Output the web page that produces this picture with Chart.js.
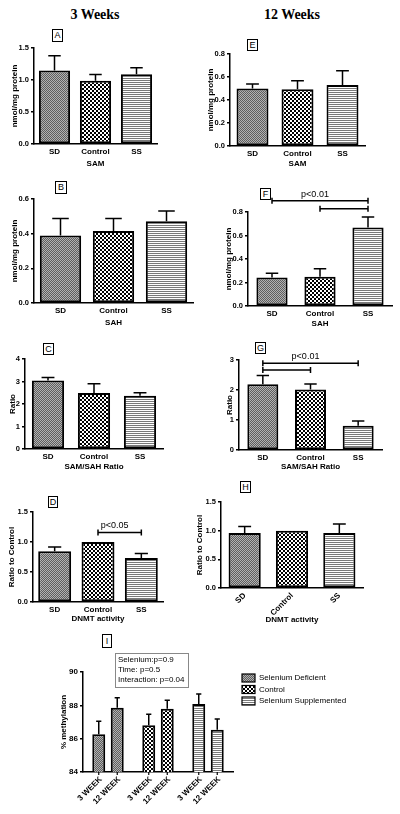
<!DOCTYPE html>
<html>
<head>
<meta charset="utf-8">
<script src="https://cdn.jsdelivr.net/npm/chart.js"></script>
<style>
    body { margin: 0; width: 400px; height: 814px; background: #fff; position: relative; overflow: hidden; font-family: "Liberation Sans", Arial, sans-serif; color: #000; }
    canvas { position: absolute; }
    .head { position: absolute; font: bold 14px "Liberation Serif", "Times New Roman", serif; transform: translate(-50%, -50%); white-space: nowrap; }
    .letter { position: absolute; border: 1.5px solid #000; font-size: 9px; line-height: 1; display: flex; align-items: center; justify-content: center; box-sizing: border-box; }
</style>
</head>
<body>

<div class="head" style="left:95px; top:15px;">3 Weeks</div>
<div class="head" style="left:292px; top:15px;">12 Weeks</div>

<div class="letter" style="left:52px; top:29px; width:11px; height:13px;">A</div>
<div class="letter" style="left:247px; top:39px; width:11px; height:12px;">E</div>
<div class="letter" style="left:55px; top:181px; width:12px; height:13px;">B</div>
<div class="letter" style="left:260px; top:188px; width:11px; height:12px;">F</div>
<div class="letter" style="left:43px; top:343px; width:11px; height:12px;">C</div>
<div class="letter" style="left:255px; top:342px; width:11px; height:12px;">G</div>
<div class="letter" style="left:48px; top:496px; width:10px; height:12px;">D</div>
<div class="letter" style="left:240px; top:481px; width:11px; height:12px;">H</div>
<div class="letter" style="left:102px; top:634px; width:10px; height:14px;">I</div>

<script>
// groups
const groupLabels = ['SD', 'Control', 'SS'];
const groupNames = ['Selenium Deficient', 'Control', 'Selenium Supplemented'];
const weekLabels = ['3 WEEK', '12 WEEK'];

// SAM (nmol/mg protein)
const sam3wk = [1.15, 0.99, 1.09];
const sam3wkErr = [0.23, 0.095, 0.10];
const sam12wk = [0.50, 0.493, 0.53];
const sam12wkErr = [0.04, 0.075, 0.125];

// SAH (nmol/mg protein)
const sah3wk = [0.39, 0.415, 0.472];
const sah3wkErr = [0.097, 0.073, 0.059];
const sah12wk = [0.242, 0.25, 0.668];
const sah12wkErr = [0.037, 0.066, 0.089];

// SAM/SAH ratio
const ratio3wk = [3.04, 2.49, 2.37];
const ratio3wkErr = [0.14, 0.41, 0.13];
const ratio12wk = [2.19, 2.02, 0.81];
const ratio12wkErr = [0.29, 0.18, 0.16];

// DNMT activity (ratio to control)
const dnmt3wk = [0.845, 1.0, 0.733];
const dnmt3wkErr = [0.072, 0, 0.074];
const dnmt12wk = [0.96, 1.0, 0.96];
const dnmt12wkErr = [0.114, 0, 0.156];

// % methylation, per group
const methyl3wk = [86.26, 86.8, 88.08];
const methyl3wkErr = [0.78, 0.66, 0.6];
const methyl12wk = [87.86, 87.79, 86.53];
const methyl12wkErr = [0.6, 0.52, 0.65];
const statsLines = ['Selenium:p=0.9', 'Time: p=0.5', 'Interaction: p=0.04'];

// significance brackets (category index from/to, height in data units)
const sigD = [{ from: 1, to: 2, y: 1.16, text: 'p<0.05' }];
const sigF = [{ from: 0, to: 2, y: 0.896, text: 'p<0.01' }, { from: 1, to: 2, y: 0.828 }];
const sigG = [{ from: 0, to: 2, y: 2.89, text: 'p<0.01' }, { from: 0, to: 1, y: 2.67 }];

Chart.defaults.font.family = '"Liberation Sans", Arial, sans-serif';
Chart.defaults.color = '#000';

function makePattern(kind) {
    const c = document.createElement('canvas');
    let g;
    if (kind === 'sd') {
        c.width = 2; c.height = 2;
        g = c.getContext('2d');
        g.fillStyle = '#b2b2b2'; g.fillRect(0, 0, 2, 2);
        g.fillStyle = '#5e5e5e'; g.fillRect(0, 0, 1, 1); g.fillRect(1, 1, 1, 1);
    } else if (kind === 'ctrl') {
        c.width = 4; c.height = 4;
        g = c.getContext('2d');
        g.fillStyle = '#fff'; g.fillRect(0, 0, 4, 4);
        g.fillStyle = '#000'; g.fillRect(0, 0, 2, 2); g.fillRect(2, 2, 2, 2);
    } else {
        c.width = 1; c.height = 2;
        g = c.getContext('2d');
        g.fillStyle = '#fff'; g.fillRect(0, 0, 1, 2);
        g.fillStyle = '#7a7a7a'; g.fillRect(0, 0, 1, 1);
    }
    return g.createPattern(c, 'repeat');
}
const fills = [makePattern('sd'), makePattern('ctrl'), makePattern('ss')];

// error bars (upper only) read from dataset.errors
const errorBars = {
    id: 'errorBars',
    afterDatasetsDraw(chart) {
        const ctx = chart.ctx;
        const yScale = chart.scales.y;
        chart.data.datasets.forEach((ds, di) => {
            if (!ds.errors) return;
            chart.getDatasetMeta(di).data.forEach((el, i) => {
                const e = ds.errors[i];
                if (!e) return;
                const top = yScale.getPixelForValue(ds.data[i] + e);
                const cap = el.width * 0.4;
                ctx.save();
                ctx.strokeStyle = '#000';
                ctx.lineWidth = 1.5;
                ctx.beginPath();
                ctx.moveTo(el.x, el.y);
                ctx.lineTo(el.x, top);
                ctx.moveTo(el.x - cap / 2, top);
                ctx.lineTo(el.x + cap / 2, top);
                ctx.stroke();
                ctx.restore();
            });
        });
    }
};

function sigBars(sigs) {
    return {
        id: 'sigBars',
        afterDraw(chart) {
            if (!sigs) return;
            const ctx = chart.ctx;
            const xs = chart.scales.x, ys = chart.scales.y;
            sigs.forEach(s => {
                const x1 = xs.getPixelForValue(s.from);
                const x2 = xs.getPixelForValue(s.to);
                const y = ys.getPixelForValue(s.y);
                ctx.save();
                ctx.strokeStyle = '#000';
                ctx.lineWidth = 1.5;
                ctx.beginPath();
                ctx.moveTo(x1, y); ctx.lineTo(x2, y);
                ctx.moveTo(x1, y - 3); ctx.lineTo(x1, y + 3);
                ctx.moveTo(x2, y - 3); ctx.lineTo(x2, y + 3);
                ctx.stroke();
                if (s.text) {
                    ctx.fillStyle = '#000';
                    ctx.font = '9px "Liberation Sans", Arial, sans-serif';
                    ctx.textAlign = 'center';
                    ctx.textBaseline = 'bottom';
                    ctx.fillText(s.text, (x1 + x2) / 2 - 5, y - 2);
                }
                ctx.restore();
            });
        }
    };
}

function addCanvas(id, box) {
    const cv = document.createElement('canvas');
    cv.id = id;
    cv.width = box.w;
    cv.height = box.h;
    cv.style.left = box.x + 'px';
    cv.style.top = box.y + 'px';
    document.body.appendChild(cv);
    return cv;
}

// box = canvas placement, area = wanted plot area in page pixels
function barPanel(id, box, area, cfg) {
    const cv = addCanvas(id, box);
    new Chart(cv, {
        type: 'bar',
        data: {
            labels: groupLabels,
            datasets: [{
                data: cfg.values,
                errors: cfg.errors,
                backgroundColor: fills,
                borderColor: '#000',
                borderWidth: 2,
                borderSkipped: false,
                barPercentage: cfg.barPct,
                categoryPercentage: 1
            }]
        },
        options: {
            responsive: false,
            animation: false,
            layout: { padding: { top: area.t - box.y, right: box.x + box.w - area.r, left: 0, bottom: 0 } },
            plugins: { legend: { display: false }, tooltip: { enabled: false } },
            scales: {
                x: {
                    grid: { display: false, drawTicks: false },
                    border: { display: true, color: '#000', width: 1.5 },
                    ticks: {
                        font: { size: 8, weight: 'bold' },
                        padding: 3,
                        minRotation: cfg.rotate || 0,
                        maxRotation: cfg.rotate || 0
                    },
                    title: { display: true, text: cfg.xTitle, font: { size: 8, weight: 'bold' }, padding: 0 },
                    afterFit: s => { s.height = box.y + box.h - area.b; }
                },
                y: {
                    min: 0,
                    max: cfg.max,
                    grid: { drawOnChartArea: false, color: '#000', lineWidth: 1.5, tickLength: 3 },
                    border: { display: true, color: '#000', width: 1.5 },
                    ticks: {
                        stepSize: cfg.step,
                        font: { size: 7.5, weight: 'bold' },
                        padding: 2,
                        callback: v => v.toFixed(cfg.dec)
                    },
                    title: { display: true, text: cfg.yTitle, font: { size: 8, weight: 'bold' }, padding: 0 },
                    afterFit: s => { s.width = area.l - box.x; }
                }
            }
        },
        plugins: [errorBars, sigBars(cfg.sigs)]
    });
}

barPanel('chartA', { x: 10, y: 24, w: 155, h: 145 }, { l: 34, t: 48, r: 157, b: 144 },
    { values: sam3wk, errors: sam3wkErr, max: 1.5, step: 0.5, dec: 1, barPct: 0.76, xTitle: 'SAM', yTitle: 'nmol/mg protein' });
barPanel('chartE', { x: 206, y: 30, w: 167, h: 139 }, { l: 230, t: 54, r: 365, b: 146 },
    { values: sam12wk, errors: sam12wkErr, max: 0.8, step: 0.2, dec: 1, barPct: 0.71, xTitle: 'SAM', yTitle: 'nmol/mg protein' });
barPanel('chartB', { x: 10, y: 175, w: 191, h: 153 }, { l: 34, t: 199, r: 193, b: 303 },
    { values: sah3wk, errors: sah3wkErr, max: 0.6, step: 0.2, dec: 1, barPct: 0.78, xTitle: 'SAH', yTitle: 'nmol/mg protein' });
barPanel('chartF', { x: 224, y: 180, w: 176, h: 149 }, { l: 248, t: 212, r: 392, b: 306 },
    { values: sah12wk, errors: sah12wkErr, max: 0.8, step: 0.2, dec: 1, barPct: 0.65, xTitle: 'SAH', yTitle: 'nmol/mg protein', sigs: sigF });
barPanel('chartC', { x: 8, y: 335, w: 163, h: 137 }, { l: 25, t: 359, r: 163, b: 449 },
    { values: ratio3wk, errors: ratio3wkErr, max: 4, step: 1, dec: 0, barPct: 0.7, xTitle: 'SAM/SAH Ratio', yTitle: 'Ratio' });
barPanel('chartG', { x: 225, y: 336, w: 165, h: 136 }, { l: 239, t: 360, r: 382, b: 450 },
    { values: ratio12wk, errors: ratio12wkErr, max: 3, step: 1, dec: 0, barPct: 0.65, xTitle: 'SAM/SAH Ratio', yTitle: 'Ratio', sigs: sigG });
barPanel('chartD', { x: 7, y: 488, w: 164, h: 136 }, { l: 33, t: 512, r: 163, b: 602 },
    { values: dnmt3wk, errors: dnmt3wkErr, max: 1.5, step: 0.5, dec: 1, barPct: 0.76, xTitle: 'DNMT activity', yTitle: 'Ratio to Control', sigs: sigD });
barPanel('chartH', { x: 195, y: 478, w: 176, h: 147 }, { l: 221, t: 502, r: 363, b: 588 },
    { values: dnmt12wk, errors: dnmt12wkErr, max: 1.5, step: 0.5, dec: 1, barPct: 0.68, xTitle: 'DNMT activity', yTitle: 'Ratio to Control', rotate: 45 });

// panel I: % methylation, grouped by diet, one bar per time point
const weekTicks = {
    id: 'weekTicks',
    afterDraw(chart) {
        const ctx = chart.ctx;
        const a = chart.chartArea;
        chart.data.datasets.forEach((ds, di) => {
            chart.getDatasetMeta(di).data.forEach(el => {
                ctx.save();
                ctx.strokeStyle = '#000';
                ctx.lineWidth = 1.2;
                ctx.beginPath();
                ctx.moveTo(el.x, a.bottom);
                ctx.lineTo(el.x, a.bottom + 3);
                ctx.stroke();
                ctx.translate(el.x + 2, a.bottom + 6);
                ctx.rotate(-Math.PI / 4);
                ctx.fillStyle = '#000';
                ctx.font = 'bold 8px "Liberation Sans", Arial, sans-serif';
                ctx.textAlign = 'right';
                ctx.textBaseline = 'middle';
                ctx.fillText(ds.label, 0, 0);
                ctx.restore();
            });
        });
    }
};

const groupLegend = {
    id: 'groupLegend',
    afterDraw(chart) {
        const ctx = chart.ctx;
        const a = chart.chartArea;
        const x0 = a.right + 9;
        groupNames.forEach((name, i) => {
            const y = a.top + 6 + i * 11.5;
            ctx.save();
            ctx.fillStyle = fills[i];
            ctx.fillRect(x0, y - 4, 13, 8);
            ctx.strokeStyle = '#000';
            ctx.lineWidth = 1.2;
            ctx.strokeRect(x0, y - 4, 13, 8);
            ctx.fillStyle = '#000';
            ctx.font = '8px "Liberation Sans", Arial, sans-serif';
            ctx.textAlign = 'left';
            ctx.textBaseline = 'middle';
            ctx.fillText(name, x0 + 17, y);
            ctx.restore();
        });
    }
};

// two-way ANOVA summary box above the plot
const statsBox = {
    id: 'statsBox',
    afterDraw(chart) {
        const ctx = chart.ctx;
        const a = chart.chartArea;
        const x = a.left + 32, y = a.top - 19;
        ctx.save();
        ctx.strokeStyle = '#888';
        ctx.lineWidth = 1;
        ctx.strokeRect(x + 0.5, y + 0.5, 73, 34);
        ctx.fillStyle = '#000';
        ctx.font = '8px "Liberation Sans", Arial, sans-serif';
        ctx.textAlign = 'left';
        ctx.textBaseline = 'middle';
        statsLines.forEach((t, i) => ctx.fillText(t, x + 3, y + 7 + i * 10));
        ctx.restore();
    }
};

const boxI = { x: 59, y: 628, w: 341, h: 186 };
const areaI = { l: 83, t: 672, r: 233, b: 772 };
new Chart(addCanvas('chartI', boxI), {
    type: 'bar',
    data: {
        labels: groupNames,
        datasets: [
            { label: weekLabels[0], data: methyl3wk, errors: methyl3wkErr },
            { label: weekLabels[1], data: methyl12wk, errors: methyl12wkErr }
        ].map(ds => Object.assign(ds, {
            backgroundColor: fills,
            borderColor: '#000',
            borderWidth: 2,
            borderSkipped: false,
            barPercentage: 0.7,
            categoryPercentage: 0.74
        }))
    },
    options: {
        responsive: false,
        animation: false,
        layout: { padding: { top: areaI.t - boxI.y, right: boxI.x + boxI.w - areaI.r, left: 0, bottom: 0 } },
        plugins: { legend: { display: false }, tooltip: { enabled: false } },
        scales: {
            x: {
                grid: { display: false, drawTicks: false },
                border: { display: true, color: '#000', width: 1.5 },
                ticks: { display: false },
                afterFit: s => { s.height = boxI.y + boxI.h - areaI.b; }
            },
            y: {
                min: 84,
                max: 90,
                grid: { drawOnChartArea: false, color: '#000', lineWidth: 1.5, tickLength: 3 },
                border: { display: true, color: '#000', width: 1.5 },
                ticks: { stepSize: 2, font: { size: 8, weight: 'bold' }, padding: 2 },
                title: { display: true, text: '% methylation', font: { size: 8, weight: 'bold' }, padding: 0 },
                afterFit: s => { s.width = areaI.l - boxI.x; }
            }
        }
    },
    plugins: [errorBars, weekTicks, groupLegend, statsBox]
});
</script>
</body>
</html>
